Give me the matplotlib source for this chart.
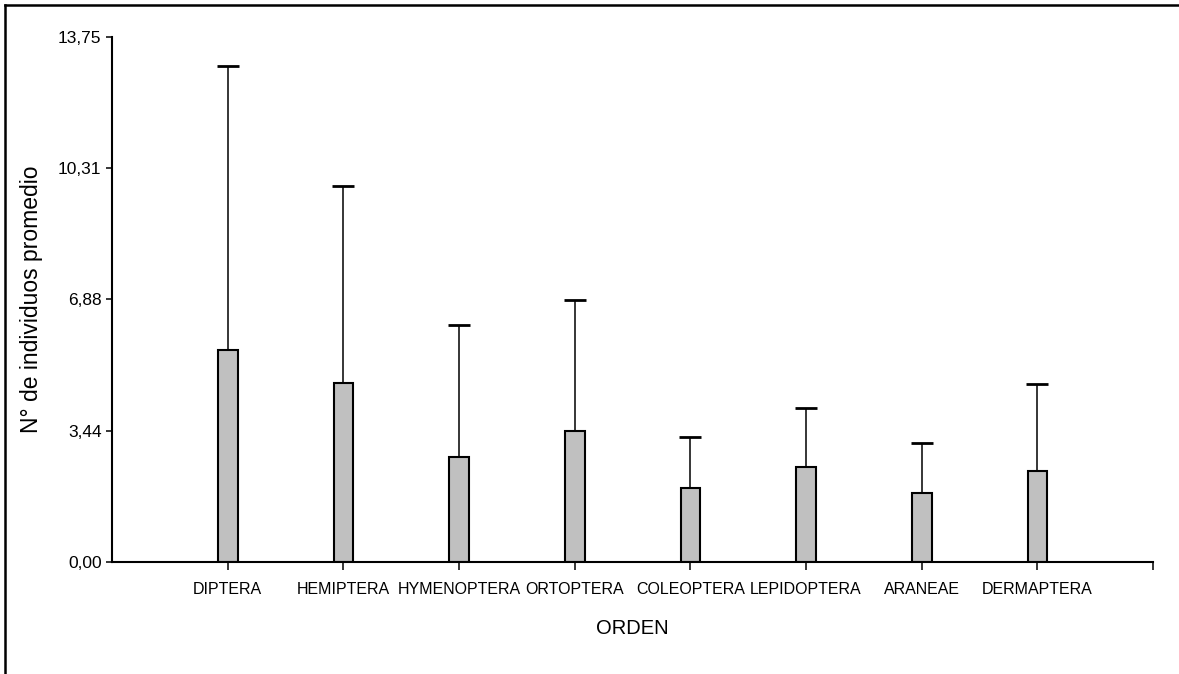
import numpy as np
import matplotlib
matplotlib.use("Agg")
import matplotlib.pyplot as plt
from matplotlib.lines import Line2D

# datos
ordenes = ["DIPTERA", "HEMIPTERA", "HYMENOPTERA", "ORTOPTERA",
           "COLEOPTERA", "LEPIDOPTERA", "ARANEAE", "DERMAPTERA"]
promedio = [5.55, 4.69, 2.74, 3.43, 1.94, 2.50, 1.82, 2.38]
superior = [12.99, 9.85, 6.21, 6.86, 3.28, 4.03, 3.11, 4.66]
yticks = [0.0, 3.44, 6.88, 10.31, 13.75]
ytick_labels = ["0,00", "3,44", "6,88", "10,31", "13,75"]

fuente = ["Liberation Sans", "DejaVu Sans"]

fig = plt.figure(figsize=(11.79, 6.74), dpi=100)
ax = fig.add_axes([0.095, 0.166, 0.883, 0.779])

x = np.arange(len(ordenes))
err = np.array(superior) - np.array(promedio)

eb = ax.errorbar(x, promedio, yerr=[np.zeros(len(err)), err], fmt="none",
                 ecolor="black", elinewidth=1.1, capsize=8, capthick=2, zorder=1)
eb[1][0].set_visible(False)  # sin tapa inferior

ax.bar(x, promedio, width=0.17, color="#c0c0c0", edgecolor="black",
       linewidth=1.5, zorder=2)

ax.set_xlim(-1, 8)
ax.set_ylim(0, 13.75)
ax.set_xticks(list(x) + [8])
ax.set_xticklabels(ordenes + [""], family=fuente, fontsize=11.5)
ax.set_yticks(yticks)
ax.set_yticklabels(ytick_labels, family=fuente, fontsize=12.5)

for s in ["top", "right"]:
    ax.spines[s].set_visible(False)
for s in ["left", "bottom"]:
    ax.spines[s].set_linewidth(1.5)
ax.tick_params(axis="y", length=4.5, width=1.1, pad=3)
ax.tick_params(axis="x", length=6, width=1.1, pad=8)

ax.set_ylabel("N° de individuos promedio", family=fuente, fontsize=16.5)
ax.yaxis.set_label_coords(-0.066, 0.5)
ax.set_xlabel("ORDEN", family=fuente, fontsize=14.5)
ax.xaxis.set_label_coords(0.5, -0.108)

# marco de la figura (solo se ven el borde superior e izquierdo)
y_top = 1 - 5 / 674
x_left = 5 / 1179
fig.add_artist(Line2D([x_left, 1.0], [y_top, y_top], transform=fig.transFigure,
                      color="black", linewidth=1.8))
fig.add_artist(Line2D([x_left, x_left], [0.0, y_top], transform=fig.transFigure,
                      color="black", linewidth=1.8))

fig.savefig("out.png", dpi=100)
